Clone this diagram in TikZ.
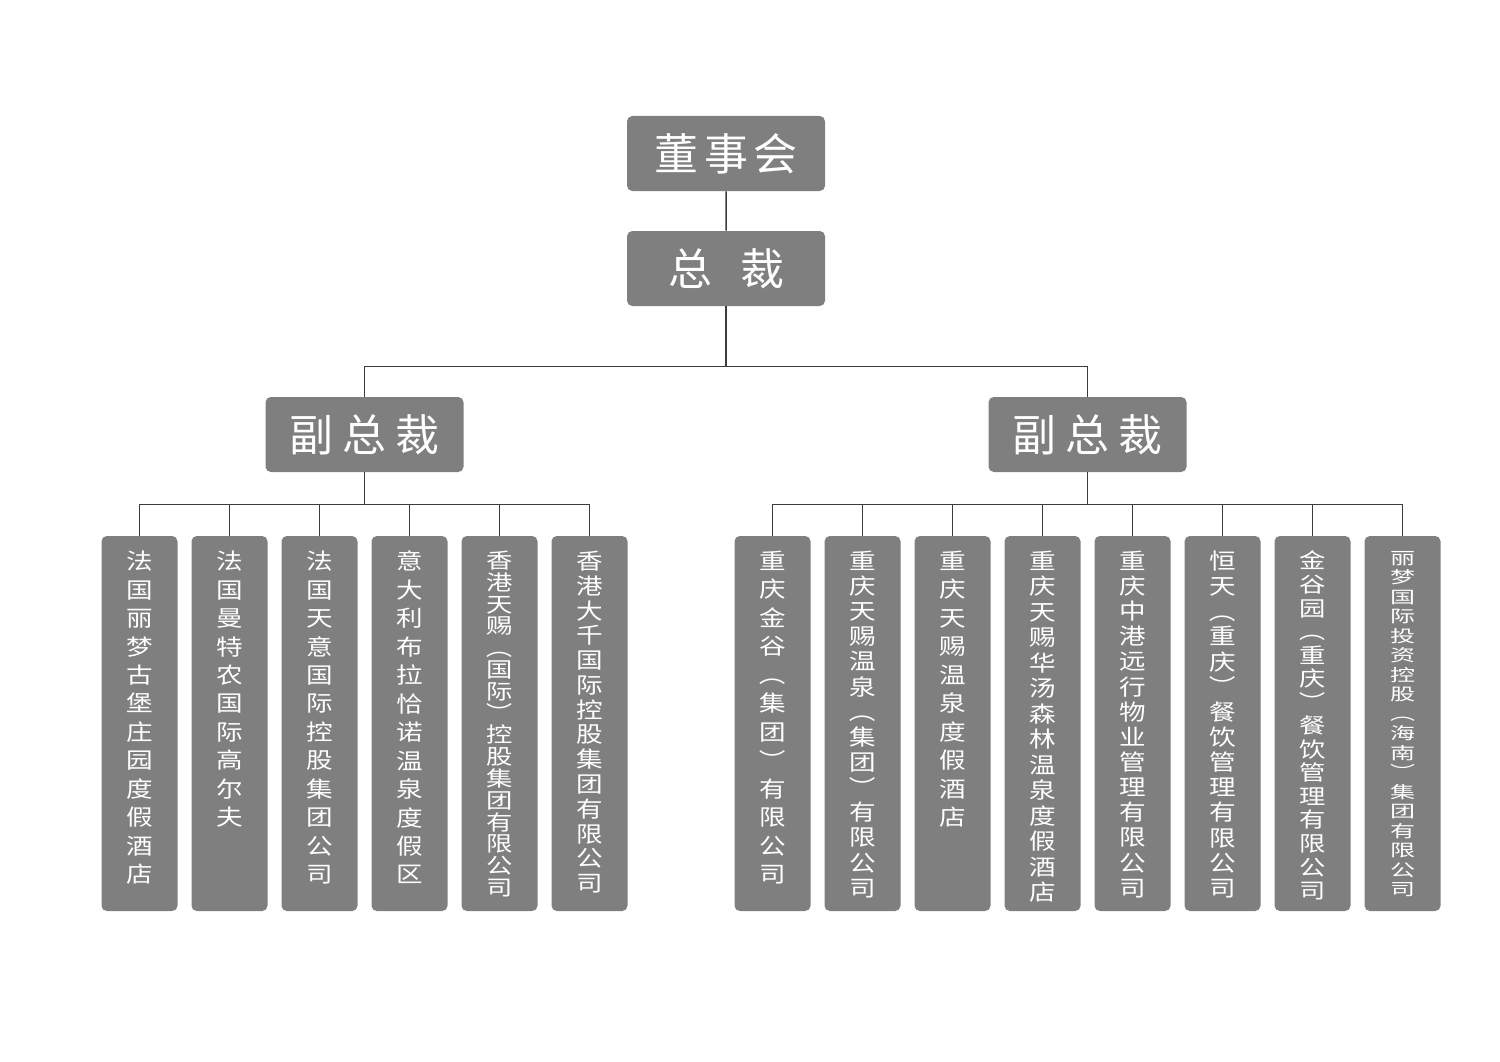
\documentclass[tikz,border=0pt]{standalone}
\usepackage{fontspec}
\usepackage{graphicx}
\newfontfamily\cjk{Noto Sans CJK SC}
\definecolor{boxgray}{RGB}{128,127,127}
\definecolor{linegray}{RGB}{60,60,60}
\newcommand\hstretch{1.2}
\newcommand\vlp{\rotatebox[origin=c]{-90}{（}}
\newcommand\vrp{\rotatebox[origin=c]{-90}{）}}
\newcommand\vstack[1]{\vstackA#1\relax}
\def\vstackA#1{\ifx#1\relax\else\scalebox{\hstretch}[1]{#1}\par\expandafter\vstackA\fi}
\newcommand\colbox[1]{\parbox[c][6.9cm][t]{1.5cm}{\centering\vstack{#1}}}
\begin{document}
\begin{tikzpicture}[
    every node/.style={text=white},
    headbox/.style={fill=boxgray, rounded corners=3pt, minimum width=3.96cm,
        minimum height=1.5cm, inner sep=0pt, font=\cjk\fontsize{25}{30}\selectfont},
    unitbox/.style={fill=boxgray, rounded corners=3pt, minimum width=1.52cm,
        minimum height=7.5cm, inner sep=0pt},
    cfont/.style n args={3}{font={\cjk\fontsize{#1}{#2}\selectfont\def\hstretch{#3}}},
    edge from parent/.style={draw=linegray, line width=0.85pt},
    level 1/.style={level distance=2.3cm},
    level 2/.style={level distance=3.32cm, sibling distance=14.46cm,
        edge from parent path={(\tikzparentnode.south) -- ++(0,-1.2) -| (\tikzchildnode.north)}},
    level 3/.style={level distance=5.78cm, sibling distance=1.8cm,
        edge from parent path={(\tikzparentnode.south) -- ++(0,-0.64) -| (\tikzchildnode.north)}}]

    \useasboundingbox (0,0) rectangle (30,-21.22);

    \node[headbox] (board) at (14.52,-3.07) {董\hspace{3pt}事\hspace{3pt}会}
        child {node[headbox] (ceo) {总\hspace{16pt}裁}
            child {node[headbox] (vpleft) {副\hspace{5pt}总\hspace{5pt}裁}
                child {node[unitbox, cfont={12.6}{16.2}{1.2}] (fr1) {\colbox{法国丽梦古堡庄园度假酒店}}}
                child {node[unitbox, cfont={12.6}{16.2}{1.2}] (fr2) {\colbox{法国曼特农国际高尔夫}}}
                child {node[unitbox, cfont={12.6}{16.2}{1.2}] (fr3) {\colbox{法国天意国际控股集团公司}}}
                child {node[unitbox, cfont={12.6}{16.2}{1.2}] (it1) {\colbox{意大利布拉恰诺温泉度假区}}}
                child {node[unitbox, cfont={12}{12.4}{1.25}] (hk1) {\colbox{香港天赐\vlp 国际\vrp 控股集团有限公司}}}
                child {node[unitbox, cfont={12.6}{14.1}{1.2}] (hk2) {\colbox{香港大千国际控股集团有限公司}}}
            }
            child {node[headbox] (vpright) {副\hspace{5pt}总\hspace{5pt}裁}
                child {node[unitbox, cfont={12.6}{16.2}{1.2}] (cq1) {\colbox{重庆金谷\vlp 集团\vrp 有限公司}}}
                child {node[unitbox, cfont={12.6}{14.3}{1.2}] (cq2) {\colbox{重庆天赐温泉\vlp 集团\vrp 有限公司}}}
                child {node[unitbox, cfont={12.6}{16.2}{1.2}] (cq3) {\colbox{重庆天赐温泉度假酒店}}}
                child {node[unitbox, cfont={12.6}{14.5}{1.2}] (cq4) {\colbox{重庆天赐华汤森林温泉度假酒店}}}
                child {node[unitbox, cfont={12.6}{14.3}{1.2}] (cq5) {\colbox{重庆中港远行物业管理有限公司}}}
                child {node[unitbox, cfont={12.6}{14.3}{1.2}] (ht1) {\colbox{恒天\vlp 重庆\vrp 餐饮管理有限公司}}}
                child {node[unitbox, cfont={12}{13.4}{1.25}] (jg1) {\colbox{金谷园\vlp 重庆\vrp 餐饮管理有限公司}}}
                child {node[unitbox, cfont={9.5}{11.1}{1.5}] (lm1) {\colbox{丽梦国际投资控股\vlp 海南\vrp 集团有限公司}}}
            }
        };

\end{tikzpicture}
\end{document}
